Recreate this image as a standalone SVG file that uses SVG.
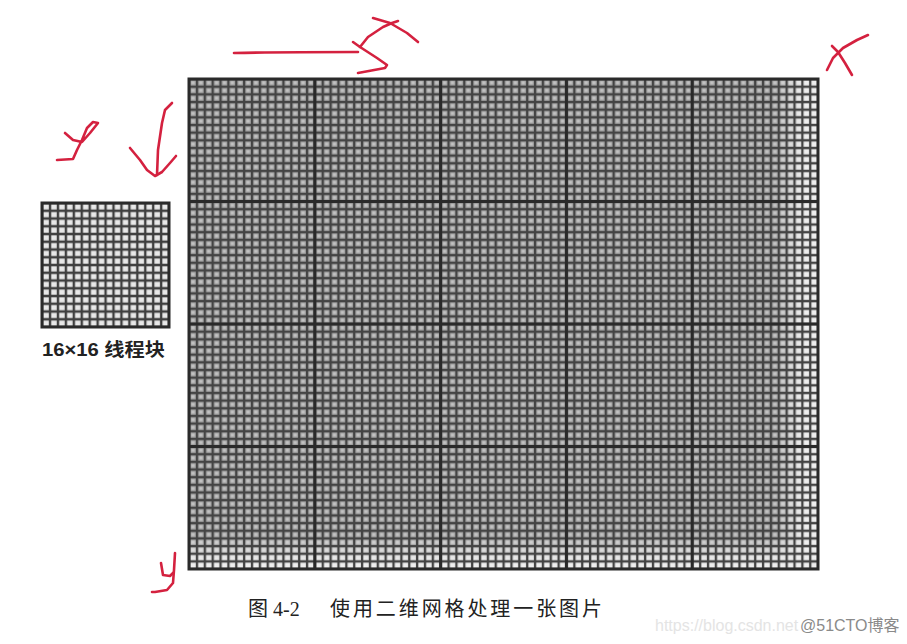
<svg xmlns="http://www.w3.org/2000/svg" width="907" height="644" viewBox="0 0 907 644">
  <style>
    .ink { fill: none; stroke: #d4213f; stroke-width: 2.6; stroke-linecap: round; stroke-linejoin: round; }
    .blk { fill: none; stroke: #2a2a2a; stroke-width: 3; }
    .lbl { font-family: "Liberation Sans", "Noto Sans CJK SC", sans-serif; font-weight: bold; font-size: 18px; fill: #222; }
    .cap { font-family: "Liberation Serif", "Noto Sans CJK SC", serif; font-size: 20px; fill: #222; }
    .wm { font-family: "Liberation Sans", "Noto Sans CJK SC", sans-serif; font-size: 16px; }
  </style>
  <defs>
    <pattern id="cellDark" patternUnits="userSpaceOnUse" x="189" y="79" width="7.8625" height="7.65625">
      <rect width="7.8625" height="7.65625" fill="#444444"/>
      <rect x="1.3" y="1.3" width="5.5" height="5.2" fill="#a6a6a6"/>
      <rect x="2.5" y="2.4" width="3.0" height="2.8" fill="#c2c2c2"/>
    </pattern>
    <pattern id="cellLight" patternUnits="userSpaceOnUse" x="189" y="79" width="7.8625" height="7.65625">
      <rect width="7.8625" height="7.65625" fill="#444444"/>
      <rect x="1.3" y="1.3" width="5.5" height="5.2" fill="#eeeeee"/>
    </pattern>
    <pattern id="cellSmall" patternUnits="userSpaceOnUse" x="42" y="203" width="7.9375" height="7.75">
      <rect width="7.9375" height="7.75" fill="#3f3f3f"/>
      <rect x="1.3" y="1.3" width="5.5" height="5.2" fill="#e8e8e8"/>
    </pattern>
    <linearGradient id="fadeX" gradientUnits="userSpaceOnUse" x1="189" y1="0" x2="818" y2="0">
      <stop offset="0" stop-color="#fff"/>
      <stop offset="0.93" stop-color="#fff"/>
      <stop offset="0.975" stop-color="#000"/>
      <stop offset="1" stop-color="#000"/>
    </linearGradient>
    <linearGradient id="fadeY" gradientUnits="userSpaceOnUse" x1="0" y1="79" x2="0" y2="569">
      <stop offset="0" stop-color="#fff"/>
      <stop offset="0.93" stop-color="#fff"/>
      <stop offset="0.985" stop-color="#000"/>
      <stop offset="1" stop-color="#000"/>
    </linearGradient>
    <mask id="mX" maskUnits="userSpaceOnUse" x="0" y="0" width="907" height="644">
      <rect x="189" y="79" width="629" height="490" fill="url(#fadeX)"/>
    </mask>
    <mask id="mY" maskUnits="userSpaceOnUse" x="0" y="0" width="907" height="644">
      <rect x="189" y="79" width="629" height="490" fill="url(#fadeY)"/>
    </mask>
  </defs>

  <rect width="907" height="644" fill="#ffffff"/>

  <g id="grid">
    <rect x="189" y="79" width="629" height="490" fill="url(#cellLight)"/>
    <g mask="url(#mY)">
      <rect x="189" y="79" width="629" height="490" fill="url(#cellDark)" mask="url(#mX)"/>
    </g>
    <path class="blk" d="M314.8 79V569M440.6 79V569M566.4 79V569M692.2 79V569M189 201.5H818M189 324H818M189 446.5H818"/>
    <rect class="blk" x="189" y="79" width="629" height="490"/>
  </g>

  <g id="thread-block">
    <rect x="42" y="203" width="127" height="124" fill="url(#cellSmall)"/>
    <rect class="blk" x="42" y="203" width="127" height="124" stroke-width="2.6"/>
    <text class="lbl" x="42" y="356" textLength="123" lengthAdjust="spacingAndGlyphs">16×16 线程块</text>
  </g>

  <g id="caption">
    <text class="cap" x="248" y="616">图 4-2</text>
    <text class="cap" x="330" y="616" textLength="272" lengthAdjust="spacing">使用二维网格处理一张图片</text>
  </g>

  <g id="watermark">
    <text class="wm" x="655" y="631" fill="#e4e4e4">https://blog.csdn.net</text>
    <text class="wm" x="800" y="631" fill="#8a8a8a">@51CTO博客</text>
  </g>

  <g id="annotations">
    <path class="ink" d="M234 53 C280 52 320 52 358 52"/>
    <path class="ink" d="M353 42 L360 47 L368 37 L383 27 L392 23 L398 21"/>
    <path class="ink" d="M373 18 L390 23 L407 33 L418 42"/>
    <path class="ink" d="M360 47 L377 58 L387 65 L385 68 L358 73"/>
    <path class="ink" d="M827 70 L833 58 L843 48 L857 40 L868 35"/>
    <path class="ink" d="M832 46 L838 52 L845 63 L852 75"/>
    <path class="ink" d="M65 133 L73 140 L82 142 L90 133 L98 123 L93 122 L87 128 L82 140 L77 150 L73 159 L57 160"/>
    <path class="ink" d="M172 103 L165 110 L162 123 L158 150 L157 175"/>
    <path class="ink" d="M130 148 L140 160 L147 170 L155 176 L162 172 L170 163 L176 156"/>
    <path class="ink" d="M161 563 L163 575 L170 576 L173 573"/>
    <path class="ink" d="M175 553 L174 570 L173 583 L167 590 L155 592 L152 592"/>
  </g>
</svg>
